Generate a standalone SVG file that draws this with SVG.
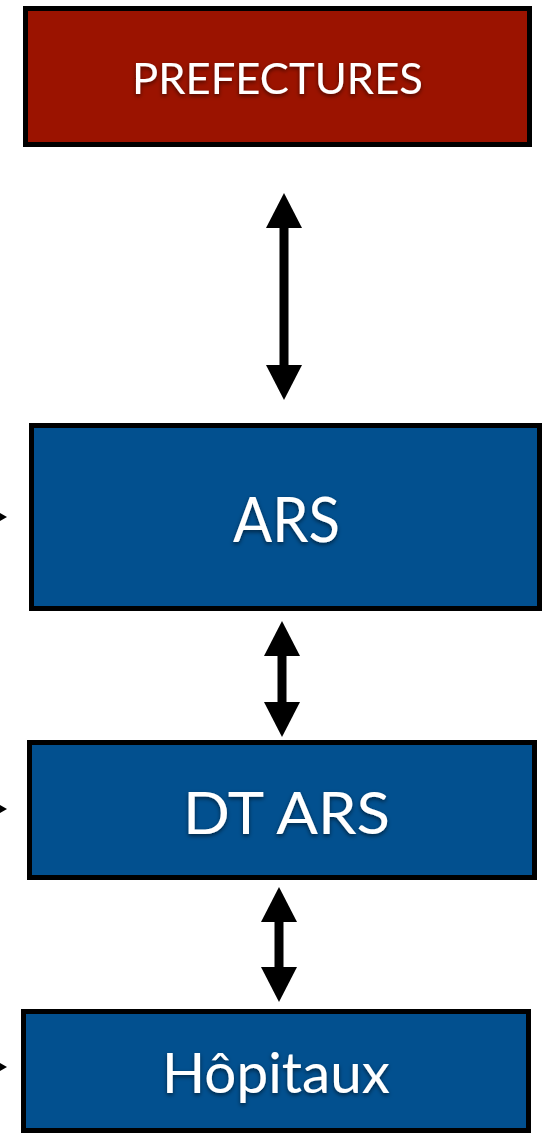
<svg xmlns="http://www.w3.org/2000/svg" width="550" height="1134" viewBox="0 0 550 1134">
<style>
.box{stroke:#000;stroke-width:5}
.red{fill:#9B1300}
.blue{fill:#02508F}
.lbl{font-family:Lato,"Liberation Sans",sans-serif;fill:#fff;filter:url(#sh)}
.conn{stroke:#000;stroke-width:9;fill:none}
.tip{fill:#000}
</style>
<defs>
<filter id="sh" x="-10%" y="-20%" width="120%" height="150%">
<feDropShadow dx="0" dy="2" stdDeviation="2" flood-color="#000" flood-opacity="0.55"/>
</filter>
<marker id="ah" viewBox="0 0 35 36" refX="0" refY="18" markerWidth="35" markerHeight="36" markerUnits="userSpaceOnUse" orient="auto-start-reverse">
<path d="M0,0 L35,18 L0,36 z" fill="#000"/>
</marker>
</defs>
<g id="connectors">
<line class="conn" x1="284" y1="228" x2="284" y2="365" marker-start="url(#ah)" marker-end="url(#ah)"/>
<line class="conn" x1="282" y1="656" x2="282" y2="702" marker-start="url(#ah)" marker-end="url(#ah)"/>
<line class="conn" x1="279" y1="922" x2="279" y2="967" marker-start="url(#ah)" marker-end="url(#ah)"/>
<path class="tip" d="M0,513 L7,517 L0,521 z"/>
<path class="tip" d="M0,805 L7,809 L0,813 z"/>
<path class="tip" d="M0,1063 L7,1067 L0,1071 z"/>
</g>
<g id="prefectures">
<rect class="box red" x="25.5" y="8.5" width="504" height="136"/>
<text class="lbl" x="132" y="94" font-size="43" textLength="291" lengthAdjust="spacingAndGlyphs">PREFECTURES</text>
</g>
<g id="ars">
<rect class="box blue" x="31.5" y="425.5" width="508" height="183"/>
<text class="lbl" x="233" y="542" font-size="61" textLength="107" lengthAdjust="spacingAndGlyphs">ARS</text>
</g>
<g id="dt-ars">
<rect class="box blue" x="29.5" y="742.5" width="505" height="135"/>
<text class="lbl" x="183" y="834" font-size="58" textLength="207" lengthAdjust="spacingAndGlyphs">DT ARS</text>
</g>
<g id="hopitaux">
<rect class="box blue" x="23.5" y="1011.5" width="505" height="119"/>
<text class="lbl" x="162" y="1093" font-size="56" textLength="228" lengthAdjust="spacingAndGlyphs">Hôpitaux</text>
</g>
</svg>
